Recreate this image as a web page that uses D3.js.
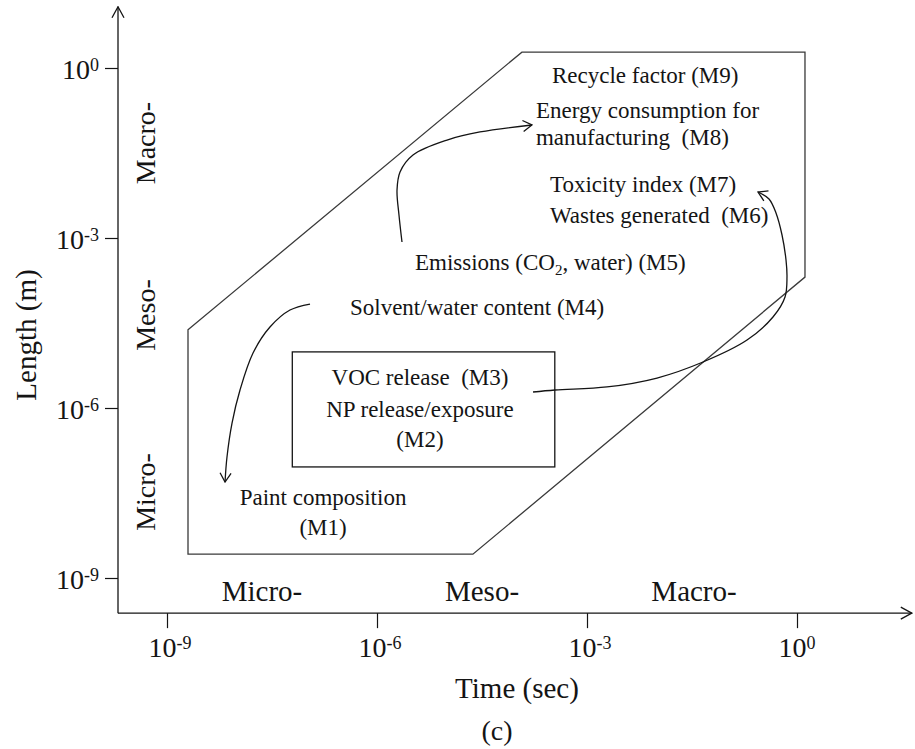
<!DOCTYPE html>
<html>
<head>
<meta charset="utf-8">
<script src="https://cdn.jsdelivr.net/npm/d3@7"></script>
<style>
  html, body { margin: 0; padding: 0; background: #fff; }
  svg { display: block; }
  text { font-family: "Liberation Serif", "Times New Roman", serif; }
</style>
</head>
<body>
<svg id="chart" width="915" height="749"></svg>
<script>
// ---------- data (all positions as log10 exponents of time [s] and length [m]) ----------
const tickExponents = [-9, -6, -3, 0];
const tickBase = "10";
const xAxisExtent = [-9.7, 1.64];
const yAxisExtent = [-9.62, 1.08];

// hexagonal region of the assessment
const regionLogT = [-8.7, -3.93, 0.114, 0.114, -4.63, -8.7];
const regionLogL = [-4.62, 0.28, 0.28, -3.69, -8.58, -8.58];

// inner box (M2/M3)
const boxLogT = [-7.21, -3.46];
const boxLogL = [-7.04, -5.01];

// metric labels
const metricText = ["Recycle factor (M9)", "Energy consumption for", "manufacturing  (M8)",
  "Toxicity index (M7)", "Wastes generated  (M6)", "Emissions (CO|2|, water) (M5)",
  "Solvent/water content (M4)", "VOC release  (M3)", "NP release/exposure", "(M2)",
  "Paint composition", "(M1)"];
const metricLogT = [-3.50, -3.729, -3.729, -3.529, -3.529, -5.457, -6.386, -5.386, -5.386, -5.386, -6.771, -6.771];
const metricLogL = [-0.265, -0.882, -1.359, -2.188, -2.735, -3.565, -4.359, -5.594, -6.159, -6.688, -7.712, -8.241];
const metricAnchor = ["start", "start", "start", "start", "start", "start", "start", "middle", "middle", "middle", "middle", "middle"];

// scale region labels
const scaleNames = ["Micro-", "Meso-", "Macro-"];
const xRegionLogT = [-7.643, -4.5, -1.471];
const yRegionLogL = [-7.482, -4.359, -1.324];

// curved arrows
const arrow1T = [-6.957, -7.243, -7.529, -7.771, -7.957, -8.071, -8.143, -8.171];
const arrow1L = [-4.165, -4.271, -4.571, -5.029, -5.682, -6.265, -6.865, -7.306];
const arrow2T = [-5.643, -5.686, -5.714, -5.671, -5.486, -5.0, -4.529, -3.786];
const arrow2L = [-3.071, -2.594, -2.153, -1.835, -1.535, -1.271, -1.129, -1.006];
const arrow3T = [-3.771, -3.457, -2.714, -2.0, -1.343, -0.714, -0.343, -0.171, -0.143, -0.157, -0.214, -0.3, -0.4, -0.557];
const arrow3L = [-5.718, -5.682, -5.629, -5.471, -5.188, -4.8, -4.394, -4.041, -3.688, -3.388, -2.947, -2.559, -2.312, -2.188];

// ---------- drawing ----------
const FONT = "'Liberation Serif', 'Times New Roman', serif";
const svg = d3.select("#chart");
const ink = "#141414";
const x = d3.scaleLog().domain([1e-9, 1]).range([167, 797]);
const y = d3.scaleLog().domain([1e-9, 1]).range([578, 68]);
const X = e => x(Math.pow(10, e));
const Y = e => y(Math.pow(10, e));

const defs = svg.append("defs");
function marker(id, len, half) {
  defs.append("marker").attr("id", id)
    .attr("markerUnits", "userSpaceOnUse")
    .attr("viewBox", `-1 -${half + 1} ${len + 2} ${2 * half + 2}`)
    .attr("refX", len).attr("refY", 0)
    .attr("markerWidth", len + 2).attr("markerHeight", 2 * half + 2)
    .attr("orient", "auto")
    .append("path").attr("d", `M0,-${half} L${len},0 L0,${half}`)
    .attr("fill", "none").attr("stroke", ink).attr("stroke-width", 1.3);
}
marker("axisHead", 11, 6);
marker("curveHead", 9, 5.5);

const axisY = Y(yAxisExtent[0]);
const axisX = X(xAxisExtent[0]);

// axis lines with arrows
svg.append("line").attr("x1", axisX).attr("y1", axisY).attr("x2", X(xAxisExtent[1])).attr("y2", axisY)
  .attr("stroke", ink).attr("stroke-width", 1.3).attr("marker-end", "url(#axisHead)");
svg.append("line").attr("x1", axisX).attr("y1", axisY).attr("x2", axisX).attr("y2", Y(yAxisExtent[1]))
  .attr("stroke", ink).attr("stroke-width", 1.3).attr("marker-end", "url(#axisHead)");

const tickVals = tickExponents.map(e => Math.pow(10, e));

function powerLabel(sel, exp, mainSize, supSize) {
  sel.text(null);
  sel.append("tspan").attr("font-size", mainSize).text(tickBase);
  sel.append("tspan").attr("font-size", supSize).attr("dy", -8).text(exp);
}

// x axis
const gx = svg.append("g").attr("transform", `translate(0,${axisY})`)
  .call(d3.axisBottom(x).tickValues(tickVals).tickSize(15).tickFormat(""));
gx.attr("font-family", FONT).attr("font-size", null);
gx.select(".domain").remove();
gx.selectAll(".tick line").attr("stroke", ink).attr("stroke-width", 1.2);
gx.selectAll(".tick text").remove();
gx.selectAll(".tick").append("text")
  .attr("x", -19).attr("y", 44).attr("fill", ink).attr("text-anchor", "start").attr("font-family", FONT)
  .each(function (d) { powerLabel(d3.select(this), Math.round(Math.log10(d)), 28, 18); });

// y axis
const gy = svg.append("g").attr("transform", `translate(${axisX},0)`)
  .call(d3.axisLeft(y).tickValues(tickVals).tickSize(13).tickFormat(""));
gy.attr("font-family", FONT).attr("font-size", null);
gy.select(".domain").remove();
gy.selectAll(".tick line").attr("stroke", ink).attr("stroke-width", 1.2);
gy.selectAll(".tick text").remove();
gy.selectAll(".tick").append("text")
  .attr("x", -19).attr("y", 10).attr("fill", ink).attr("text-anchor", "end").attr("font-family", FONT)
  .each(function (d) { powerLabel(d3.select(this), Math.round(Math.log10(d)), 28, 18); });

// axis titles
svg.append("text").attr("x", 517).attr("y", 698).attr("text-anchor", "middle").attr("font-family", FONT)
  .attr("font-size", 29).attr("fill", ink).text("Time (sec)");
svg.append("text").attr("transform", "translate(36,335) rotate(-90)").attr("text-anchor", "middle")
  .attr("font-family", FONT).attr("font-size", 29).attr("fill", ink).text("Length (m)");
svg.append("text").attr("x", 497).attr("y", 740).attr("text-anchor", "middle").attr("font-family", FONT)
  .attr("font-size", 28).attr("fill", ink).text("(c)");

// scale region labels
scaleNames.forEach((n, i) => {
  svg.append("text").attr("x", X(xRegionLogT[i])).attr("y", axisY - 12).attr("font-family", FONT)
    .attr("text-anchor", "middle").attr("font-size", 29).attr("fill", ink).text(n);
  svg.append("text").attr("transform", `translate(${axisX + 37},${Y(yRegionLogL[i])}) rotate(-90)`)
    .attr("font-family", FONT)
    .attr("text-anchor", "middle").attr("font-size", 28).attr("fill", ink).text(n);
});

// region polygon
const poly = regionLogT.map((t, i) => [X(t), Y(regionLogL[i])]);
svg.append("path").attr("d", d3.line()(poly) + "Z")
  .attr("fill", "none").attr("stroke", "#3a3a3a").attr("stroke-width", 1.3);

// inner box
svg.append("rect").attr("x", X(boxLogT[0])).attr("y", Y(boxLogL[1]))
  .attr("width", X(boxLogT[1]) - X(boxLogT[0])).attr("height", Y(boxLogL[0]) - Y(boxLogL[1]))
  .attr("fill", "none").attr("stroke", ink).attr("stroke-width", 1.3);

// metric labels
metricText.forEach((s, i) => {
  const t = svg.append("text").attr("x", X(metricLogT[i])).attr("y", Y(metricLogL[i]))
    .attr("text-anchor", metricAnchor[i]).attr("font-size", 23).attr("fill", ink)
    .attr("font-family", FONT).attr("xml:space", "preserve");
  const parts = s.split("|");
  if (parts.length === 1) { t.text(s); }
  else {
    t.append("tspan").text(parts[0]);
    t.append("tspan").attr("font-size", 15).attr("dy", 5).text(parts[1]);
    t.append("tspan").attr("dy", -5).text(parts[2]);
  }
});

// curved arrows
const curve = d3.line().curve(d3.curveCatmullRom.alpha(0.5));
[[arrow1T, arrow1L], [arrow2T, arrow2L], [arrow3T, arrow3L]].forEach(([ts, ls]) => {
  const pts = ts.map((t, i) => [X(t), Y(ls[i])]);
  svg.append("path").attr("d", curve(pts)).attr("fill", "none")
    .attr("stroke", ink).attr("stroke-width", 1.3).attr("marker-end", "url(#curveHead)");
});
</script>
</body>
</html>
